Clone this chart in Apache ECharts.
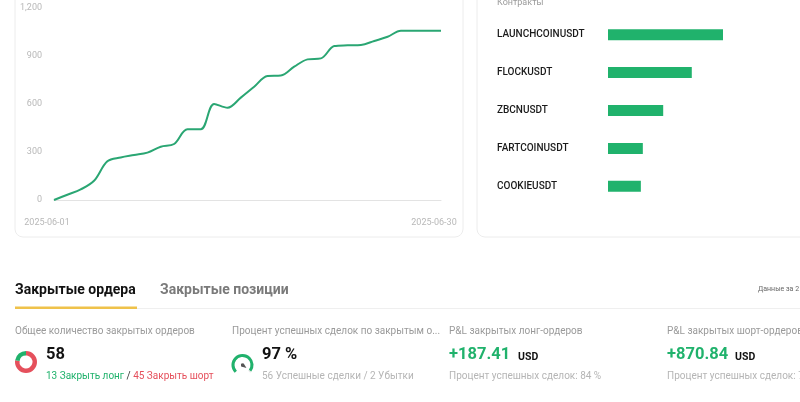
<!DOCTYPE html>
<html><head><meta charset="utf-8">
<script src="https://cdn.jsdelivr.net/npm/echarts@6/dist/echarts.min.js"></script>
<style>html,body{margin:0;padding:0;background:#fff}#c{width:800px;height:402px}</style>
</head><body><div id="c"></div>
<script>
const dates = ['2025-06-01','2025-06-02','2025-06-03','2025-06-04','2025-06-05','2025-06-06','2025-06-07','2025-06-08','2025-06-09','2025-06-10','2025-06-11','2025-06-12','2025-06-13','2025-06-14','2025-06-15','2025-06-16','2025-06-17','2025-06-18','2025-06-19','2025-06-20','2025-06-21','2025-06-22','2025-06-23','2025-06-24','2025-06-25','2025-06-26','2025-06-27','2025-06-28','2025-06-29','2025-06-30'];
const cumPnl = [0, 33, 66, 120, 242, 266, 281, 296, 333, 350, 442, 442, 600, 577, 640, 708, 775, 778, 833, 879, 885, 962, 967, 969, 994, 1020, 1058.25, 1058.25, 1058.25, 1058.25];
const yTicks = [0, 300, 600, 900, 1200];
const contracts = ['LAUNCHCOINUSDT', 'FLOCKUSDT', 'ZBCNUSDT', 'FARTCOINUSDT', 'COOKIEUSDT'];
const contractPnl = [350, 255, 168, 106, 100];
const closedLong = 13, closedShort = 45;
const winCount = 56, lossCount = 2, winRate = 97;
const longPnl = 187.41, shortPnl = 870.84;
const longWinRate = 84, shortWinRate = 7;

const GREEN = '#20b26c', RED = '#e5505c', GRAY = '#9a9a9a', LIGHT = '#b5b5b5';
const FONT = 'Roboto, "Noto Sans", sans-serif';
const chart = echarts.init(document.getElementById('c'), null, {renderer: 'canvas'});

function txt(x, y, text, style) {
  return {type: 'text', x: x, y: y, style: Object.assign({text: text, fontFamily: FONT, fontSize: 10, fill: GRAY, verticalAlign: 'middle'}, style || {})};
}

const graphics = [
  {type: 'rect', shape: {x: 15, y: -20, width: 448, height: 257, r: 8}, style: {fill: 'none', stroke: '#ececec', lineWidth: 1}, z: -1},
  {type: 'rect', shape: {x: 477, y: -20, width: 340, height: 257, r: 8}, style: {fill: 'none', stroke: '#ececec', lineWidth: 1}, z: -1},
  txt(497, 3, 'Контракты', {fontSize: 9, fill: GRAY}),
  txt(15, 290, 'Закрытые ордера', {fontSize: 14, fontWeight: 'bold', fill: '#121212'}),
  txt(160, 290, 'Закрытые позиции', {fontSize: 14, fontWeight: 'bold', fill: '#7a7a7a'}),
  {type: 'rect', shape: {x: 137, y: 308, width: 663, height: 1}, style: {fill: '#efefef'}},
  {type: 'rect', shape: {x: 15, y: 306.5, width: 122, height: 2.5}, style: {fill: '#efc24a'}},
  txt(758, 289, 'Данные за 2', {fontSize: 7, fill: '#666'}),
  txt(15, 331, 'Общее количество закрытых ордеров', {fill: GRAY}),
  txt(46, 355, String(closedLong + closedShort), {fontSize: 16.5, fontWeight: 'bold', fill: '#121212'}),
  {type: 'text', x: 46, y: 376, style: {text: '{g|' + closedLong + ' Закрыть лонг} {d|/} {r|' + closedShort + ' Закрыть шорт}', fontFamily: FONT, fontSize: 10, verticalAlign: 'middle',
    rich: {g: {fill: GREEN, fontSize: 10, fontFamily: FONT}, d: {fill: '#333', fontSize: 10, fontFamily: FONT}, r: {fill: RED, fontSize: 10, fontFamily: FONT}}}},
  txt(232, 331, 'Процент успешных сделок по закрытым о...', {fill: GRAY}),
  txt(262, 355, winRate + ' %', {fontSize: 16.5, fontWeight: 'bold', fill: '#121212'}),
  txt(262, 376, winCount + ' Успешные сделки / ' + lossCount + ' Убытки', {fill: LIGHT}),
  txt(449, 331, 'P&L закрытых лонг-ордеров', {fill: GRAY}),
  txt(449, 355, '+' + longPnl.toFixed(2), {fontSize: 16.5, fontWeight: 'bold', fill: GREEN}),
  txt(518, 357, 'USD', {fontSize: 10.5, fontWeight: 'bold', fill: '#121212'}),
  txt(449, 376, 'Процент успешных сделок: ' + longWinRate + ' %', {fill: LIGHT}),
  txt(667, 331, 'P&L закрытых шорт-ордеров', {fill: GRAY}),
  txt(667, 355, '+' + shortPnl.toFixed(2), {fontSize: 16.5, fontWeight: 'bold', fill: GREEN}),
  txt(735, 357, 'USD', {fontSize: 10.5, fontWeight: 'bold', fill: '#121212'}),
  txt(667, 376, 'Процент успешных сделок: ' + shortWinRate + ' %', {fill: LIGHT})
];

chart.setOption({
  animation: false,
  textStyle: {fontFamily: FONT},
  graphic: graphics,
  grid: [
    {left: 54, right: 359, top: 8, bottom: 202},
    {left: 608, right: 77, top: 15.75, bottom: 196.75}
  ],
  xAxis: [
    {type: 'category', gridIndex: 0, data: dates, boundaryGap: false,
      axisLine: {lineStyle: {color: '#e3e3e3'}}, axisTick: {show: false},
      axisLabel: {interval: 28, color: '#b8b8b8', fontSize: 9, margin: 18, padding: [0, 14, 0, 0]}},
    {type: 'value', gridIndex: 1, min: 0, max: Math.max.apply(null, contractPnl), show: false}
  ],
  yAxis: [
    {type: 'value', gridIndex: 0, min: yTicks[0], max: yTicks[yTicks.length - 1], interval: 300,
      splitLine: {show: false}, axisLine: {show: false}, axisTick: {show: false},
      axisLabel: {color: '#b8b8b8', fontSize: 9, margin: 12, formatter: v => v.toLocaleString('en-US')}},
    {type: 'category', gridIndex: 1, data: contracts, inverse: true,
      axisLine: {show: false}, axisTick: {show: false}, splitLine: {show: false},
      axisLabel: {align: 'left', margin: 111, color: '#1a1a1a', fontSize: 10, fontWeight: 500}}
  ],
  series: [
    {type: 'line', xAxisIndex: 0, yAxisIndex: 0, data: cumPnl, smooth: 0.35, showSymbol: false,
      lineStyle: {color: '#2aa673', width: 2}, silent: true},
    {type: 'bar', xAxisIndex: 1, yAxisIndex: 1, data: contractPnl, barWidth: 11,
      itemStyle: {color: GREEN}, silent: true},
    {type: 'pie', center: [26, 362], radius: [6.5, 11], startAngle: 90, clockwise: true, silent: true,
      label: {show: false}, labelLine: {show: false},
      data: [{value: closedShort, itemStyle: {color: RED}}, {value: closedLong, itemStyle: {color: GREEN}}]},
    {type: 'gauge', center: [242.5, 365], radius: 11, startAngle: 225, endAngle: -45, min: 0, max: 100, silent: true,
      progress: {show: true, width: 3, itemStyle: {color: GREEN}},
      axisLine: {lineStyle: {width: 3, color: [[1, '#e8e8e8']]}},
      axisTick: {show: false}, splitLine: {show: false}, axisLabel: {show: false},
      pointer: {length: '45%', width: 2, offsetCenter: [0, 0], itemStyle: {color: '#555'}},
      anchor: {show: true, size: 3, itemStyle: {color: '#555'}},
      title: {show: false}, detail: {show: false},
      data: [{value: winRate}]}
  ]
});
</script></body></html>
